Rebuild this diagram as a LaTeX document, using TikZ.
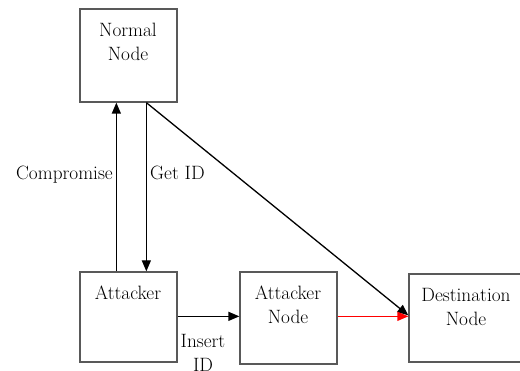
\documentclass[tikz,border=0pt]{standalone}
\usetikzlibrary{arrows.meta,calc}
\begin{document}
\begin{tikzpicture}[x=1pt,y=-1pt,
  box/.style={draw=black!65,line width=1.3pt,inner sep=0pt,minimum width=97pt},
  txt/.style={inner sep=0pt,anchor=base,font=\fontsize{19.3}{24}\selectfont},
  arr/.style={line width=1.3pt,-{Triangle[length=11pt,width=9pt]}}]
\useasboundingbox (0,0) rectangle (520,371);
% boxes
\node[box,minimum height=93pt] (normal) at (128.5,55.5) {};
\node[box,minimum height=90pt] (att) at (128.5,317) {};
\node[box,minimum height=92pt] (attn) at (288.5,318) {};
\node[box,minimum width=112pt,minimum height=88pt] (dest) at (465,318) {};
% box texts
\node[txt] (t1) at (128,37) {Normal};
\node[txt] (t2) at (128,61) {Node};
\node[txt] (t3) at (128,300) {Attacker};
\node[txt] (t4) at (288,300) {Attacker};
\node[txt] (t5) at (288,324) {Node};
\node[txt] (t6) at (466,302) {Destination};
\node[txt] (t7) at (466,326) {Node};
% connectors
\draw[arr] ([xshift=37pt]att.north west) -- ([xshift=37pt]normal.south west);
\draw[arr] ([xshift=67pt]normal.south west) -- ([xshift=67pt]att.north west);
\draw[arr] ([xshift=67pt]normal.south west) -- ([yshift=-42pt]dest.north west);
\draw[arr] ([yshift=-45pt]att.north east) -- ([yshift=-45pt]attn.north west);
\draw[arr,red] ([yshift=-45pt]attn.north east) -- ([yshift=-43pt]dest.north west);
% labels
\node[txt,anchor=base east] (l1) at (113,180) {Compromise};
\node[txt,anchor=base west] (l2) at (150,180) {Get ID};
\node[txt] (l3) at (203,348) {Insert};
\node[txt] (l4) at (203,372) {ID};
\end{tikzpicture}
\end{document}
